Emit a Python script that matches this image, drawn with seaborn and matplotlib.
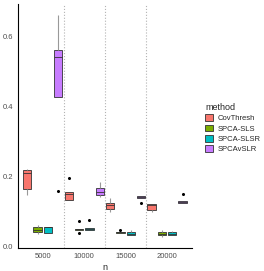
import numpy as np
import pandas as pd
import matplotlib
matplotlib.use('Agg')
import matplotlib.pyplot as plt
import seaborn as sns

# ---------------------------------------------------------------
# data: 9 values per box
# [low/outlier, low whisker, Q1, ., median, ., Q3, high whisker, high/outlier]
# ---------------------------------------------------------------
n_values = ['5000', '10000', '15000', '20000']
methods = ['CovThresh', 'SPCA-SLS', 'SPCA-SLSR', 'SPCAvSLR']
colors = ['#F8766D', '#7CAE00', '#00BFC4', '#C77CFF']

covthresh = [
    [0.148, 0.148, 0.164, 0.190, 0.210, 0.215, 0.219, 0.221, 0.221],
    [0.131, 0.131, 0.133, 0.140, 0.149, 0.151, 0.154, 0.156, 0.194],
    [0.0986, 0.0986, 0.107, 0.113, 0.1186, 0.121, 0.1234, 0.1377, 0.1377],
    [0.097, 0.097, 0.104, 0.110, 0.119, 0.120, 0.1206, 0.121, 0.121],
]
spca_sls = [
    [0.035, 0.035, 0.0394, 0.043, 0.0457, 0.050, 0.0537, 0.0606, 0.0606],
    [0.039, 0.047, 0.047, 0.048, 0.049, 0.0495, 0.050, 0.050, 0.071],
    [0.038, 0.038, 0.039, 0.040, 0.0405, 0.041, 0.0415, 0.0415, 0.047],
    [0.026, 0.026, 0.032, 0.034, 0.036, 0.038, 0.0394, 0.047, 0.047],
]
spca_slsr = [
    [0.038, 0.038, 0.038, 0.045, 0.054, 0.0545, 0.055, 0.055, 0.055],
    [0.046, 0.046, 0.046, 0.048, 0.049, 0.050, 0.051, 0.051, 0.0757],
    [0.033, 0.033, 0.033, 0.035, 0.036, 0.040, 0.042, 0.047, 0.047],
    [0.031, 0.031, 0.032, 0.034, 0.035, 0.037, 0.0394, 0.043, 0.043],
]
spcavslr = [
    [0.158, 0.428, 0.428, 0.500, 0.541, 0.550, 0.561, 0.661, 0.661],
    [0.142, 0.142, 0.146, 0.150, 0.155, 0.160, 0.167, 0.185, 0.185],
    [0.124, 0.138, 0.138, 0.140, 0.141, 0.142, 0.144, 0.144, 0.144],
    [0.123, 0.123, 0.123, 0.125, 0.127, 0.128, 0.130, 0.130, 0.149],
]

# long table for seaborn
rows = []
for method, groups in zip(methods, [covthresh, spca_sls, spca_slsr, spcavslr]):
    for n, vals in zip(n_values, groups):
        for v in vals:
            rows.append({'n': n, 'method': method, 'value': v})
df = pd.DataFrame(rows)

sns.set_style('white')
plt.rcParams['font.family'] = ['Liberation Sans', 'DejaVu Sans']

fig = plt.figure(figsize=(2.64, 2.71), dpi=100)
ax = fig.add_axes([0.068, 0.085, 0.659, 0.9])

sns.boxplot(data=df, x='n', y='value', hue='method', order=n_values,
            hue_order=methods, palette=colors, saturation=1, width=1.0,
            gap=0.2, linecolor='#333333', linewidth=0.6, showcaps=False,
            whiskerprops=dict(color='#999999', linewidth=0.8),
            flierprops=dict(marker='o', markerfacecolor='black',
                            markeredgecolor='black', markersize=1.2),
            ax=ax)

# dotted separators between n groups
for xv in [0.5, 1.5, 2.5]:
    ax.axvline(xv, color='#b3b3b3', linestyle=':', linewidth=0.8, zorder=0)

ax.set_xlim(-0.6, 3.6)
ax.set_ylim(-0.005, 0.693)
ax.set_yticks([0.0, 0.2, 0.4, 0.6])
ax.set_yticklabels(['0.0', '0.2', '0.4', '0.6'])
ax.set_xlabel('n', fontsize=6.5, labelpad=2)
ax.set_ylabel('')
ax.tick_params(axis='both', labelsize=5.5, length=2, width=0.5,
               colors='#333333', labelcolor='#4d4d4d', pad=1.5)
for side in ['top', 'right']:
    ax.spines[side].set_visible(False)
for side in ['left', 'bottom']:
    ax.spines[side].set_color('black')
    ax.spines[side].set_linewidth(0.8)

handles, labels = ax.get_legend_handles_labels()
ax.legend(handles, labels, title='method', loc='upper left',
          bbox_to_anchor=(0.758, 0.64), bbox_transform=fig.transFigure,
          frameon=False, fontsize=5.5, title_fontsize=6.5, alignment='left',
          handlelength=1.0, handleheight=1.0, handletextpad=0.6,
          labelspacing=0.3, borderpad=0.2)

fig.savefig('out.png', dpi=100)
